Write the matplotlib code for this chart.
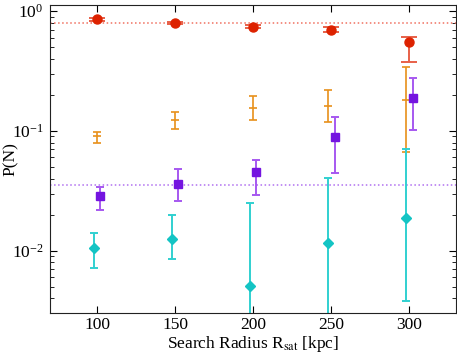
import numpy as np
import matplotlib
matplotlib.use("Agg")
import matplotlib.pyplot as plt

plt.rcParams['font.family'] = ['Liberation Serif', 'DejaVu Serif']
plt.rcParams['mathtext.fontset'] = 'stix'

radius = [100, 150, 200, 250, 300]

# red circles
red_y = [0.857, 0.800, 0.744, 0.700, 0.555]
red_lo = [0.835, 0.785, 0.725, 0.665, 0.373]
red_hi = [0.875, 0.815, 0.765, 0.735, 0.610]

# orange, no marker
org_x = [100, 150, 200, 248, 298]
org_y = [0.0914, 0.1226, 0.156, 0.160, 0.183]
org_lo = [0.0794, 0.104, 0.124, 0.119, 0.0672]
org_hi = [0.098, 0.143, 0.194, 0.221, 0.343]

# purple squares
pur_y = [0.0285, 0.0359, 0.0455, 0.0896, 0.188]
pur_lo = [0.0217, 0.0261, 0.0293, 0.0449, 0.102]
pur_hi = [0.0341, 0.0482, 0.0573, 0.130, 0.276]

# cyan diamonds
cyn_y = [0.0106, 0.0126, 0.00507, 0.0115, 0.0188]
cyn_lo = [0.00712, 0.00846, 0.0008, 0.0008, 0.0038]
cyn_hi = [0.0141, 0.0198, 0.0248, 0.0408, 0.0703]

red_line = 0.80
pur_line = 0.0352


def err(y, lo, hi):
    y = np.array(y)
    return [y - np.array(lo), np.array(hi) - y]


fig = plt.figure(figsize=(4.57, 3.54), dpi=100)
ax = fig.add_axes([0.110, 0.115, 0.8885, 0.872])

ax.axhline(red_line, color='#f07060', ls=':', lw=1.1)
ax.axhline(pur_line, color='#b070f0', ls=':', lw=1.1)

x = np.array(radius)
ax.errorbar(x, red_y, yerr=err(red_y, red_lo, red_hi), fmt='o', color='#dd2200',
            ecolor='#e86048', ms=6.5, capsize=6, elinewidth=1.4, capthick=1.4)
ax.errorbar(org_x, org_y, yerr=err(org_y, org_lo, org_hi), fmt='_', color='#e8901a',
            ecolor='#e8901a', ms=6, mew=1.2, capsize=3, elinewidth=1.2, capthick=1.2)
ax.errorbar(x + 2, pur_y, yerr=err(pur_y, pur_lo, pur_hi), fmt='s', color='#7414e0',
            ecolor='#a658f0', ms=6, capsize=3, elinewidth=1.4, capthick=1.4)
ax.errorbar(x - 2, cyn_y, yerr=err(cyn_y, cyn_lo, cyn_hi), fmt='D', color='#14c4c4',
            ecolor='#30d0d0', ms=5, capsize=3, elinewidth=1.4, capthick=1.4)

ax.set_yscale('log')
ax.set_xlim(70, 330)
ax.set_ylim(0.003, 1.135)
ax.set_xticks(radius)
ax.tick_params(which='both', direction='in', top=True, right=True, labelsize=12.5)
ax.tick_params(axis='x', which='minor', top=False, bottom=False)
ax.tick_params(which='major', length=5, pad=5)
ax.tick_params(axis='x', which='major', pad=3)
ax.tick_params(which='minor', length=3)
ax.set_xlabel(r'Search Radius R$_{\rm sat}$ [kpc]', fontsize=12.5)
ax.xaxis.set_label_coords(0.5, -0.068)
ax.set_ylabel('P(N)', fontsize=12.5)
ax.yaxis.set_label_coords(-0.078, 0.5)
for s in ax.spines.values():
    s.set_color('#222222')

fig.savefig('out.png', dpi=100)
